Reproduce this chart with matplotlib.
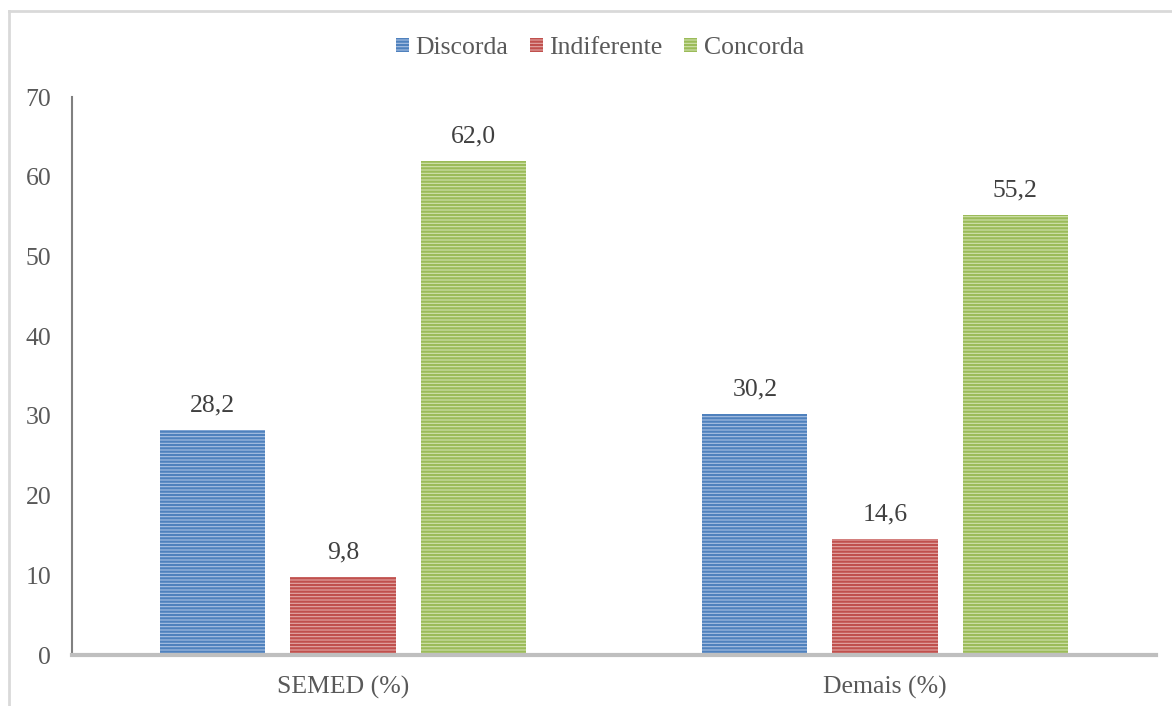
import numpy as np
import matplotlib.pyplot as plt
from matplotlib.lines import Line2D

plt.rcParams['font.family'] = ['Liberation Serif', 'DejaVu Serif']
plt.rcParams['font.size'] = 18.5
plt.rcParams['hatch.linewidth'] = 1.6

# dados
categorias = ['SEMED (%)', 'Demais (%)']
series = ['Discorda', 'Indiferente', 'Concorda']
discorda = [28.2, 30.2]
indiferente = [9.8, 14.6]
concorda = [62.0, 55.2]
valores = [discorda, indiferente, concorda]

cores = ['#4F81BD', '#C0504D', '#9BBB59']
cores_claras = ['#A9C1E3', '#E3A8A6', '#D1E2AE']
texto = '#595959'

fig = plt.figure(figsize=(11.72, 7.06), dpi=100)
ax = fig.add_axes([72 / 1172, 1 - 655 / 706, 1084 / 1172, (655 - 97) / 706])

x = np.arange(len(categorias))
largura = 0.194
passo = 0.24
for i, (nome, vals) in enumerate(zip(series, valores)):
    pos = x + (i - 1) * passo
    barras = ax.bar(pos, vals, largura, color=cores_claras[i], edgecolor=cores[i],
                    hatch='-----', linewidth=0, label=nome)
    for b, v in zip(barras, vals):
        ax.text(b.get_x() + b.get_width() / 2, v + 1.7, f'{v:.1f}'.replace('.', ','),
                ha='center', va='bottom', color='#404040', fontsize=18.5)

ax.set_xlim(-0.5, 1.5)
ax.set_ylim(0, 70)
ax.set_yticks(range(0, 71, 10))
ax.set_xticks(x)
ax.set_xticklabels(categorias)
ax.tick_params(axis='both', length=0, colors=texto, labelsize=18.5)
ax.tick_params(axis='y', pad=15)
ax.tick_params(axis='x', pad=15)
for lado in ['top', 'right']:
    ax.spines[lado].set_visible(False)
ax.spines['left'].set_color('#808080')
ax.spines['left'].set_linewidth(1.5)
ax.spines['bottom'].set_color('#BFBFBF')
ax.spines['bottom'].set_linewidth(3)

handles = [plt.Rectangle((0, 0), 1, 1, facecolor=cores_claras[i], edgecolor=cores[i],
                         hatch='-----', linewidth=0) for i in range(3)]
leg = fig.legend(handles, series, loc='center', bbox_to_anchor=(600 / 1172, 1 - 48 / 706),
                 ncol=3, frameon=False, handlelength=0.5, handleheight=0.5,
                 handletextpad=0.25, columnspacing=0.85, fontsize=18.5)
for t in leg.get_texts():
    t.set_color(texto)

# moldura do gráfico
fig.add_artist(Line2D([9 / 1172, 9 / 1172], [0, 1 - 11 / 706], transform=fig.transFigure,
                      color='#D9D9D9', lw=2))
fig.add_artist(Line2D([9 / 1172, 1], [1 - 11 / 706, 1 - 11 / 706], transform=fig.transFigure,
                      color='#D9D9D9', lw=2))

fig.savefig('out.png', dpi=100)
